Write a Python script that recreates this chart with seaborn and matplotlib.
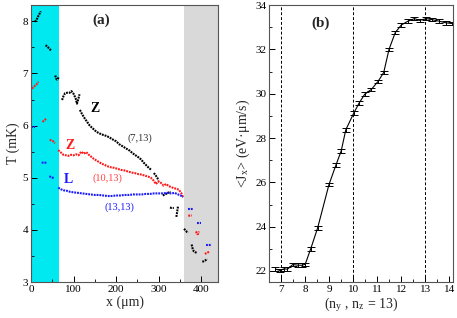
import numpy as np
import pandas as pd
import matplotlib
matplotlib.use("Agg")
import matplotlib.pyplot as plt
import seaborn as sns
from matplotlib.ticker import MultipleLocator

sns.set_theme(style="ticks")
plt.rcParams['font.family'] = ['Liberation Serif', 'DejaVu Serif']
plt.rcParams['mathtext.fontset'] = 'stix'

# ---------------- panel (a) data: T profiles (segments) ----------------
black_segments = [
    ([9, 13, 17, 21, 23], [7.99, 8.03, 8.10, 8.16, 8.19]),
    ([34, 38, 42, 47], [7.54, 7.52, 7.48, 7.44]),
    ([57, 59, 61, 63, 65], [6.96, 6.90, 6.88, 6.89, 6.93]),
    ([73, 76, 80, 85, 91, 95, 100, 105, 108, 111, 114],
     [6.49, 6.56, 6.62, 6.63, 6.63, 6.66, 6.61, 6.52, 6.42, 6.50, 6.60]),
    ([115, 120, 126, 132, 138, 146, 154, 161, 170, 178, 185, 193, 200, 208, 216,
      224, 232, 239, 246, 253, 259, 265, 271, 277, 283],
     [6.30, 6.22, 6.14, 6.07, 6.00, 5.94, 5.88, 5.85, 5.82, 5.80, 5.77, 5.73, 5.70,
      5.64, 5.60, 5.56, 5.52, 5.47, 5.43, 5.39, 5.35, 5.29, 5.24, 5.19, 5.15]),
    ([289, 293, 297, 300], [5.09, 5.05, 5.00, 4.95]),
    ([310, 315, 320, 325, 329], [4.66, 4.68, 4.70, 4.72, 4.73]),
    ([327, 331, 336], [4.43, 4.42, 4.42]),
    ([342, 344, 346], [4.25, 4.35, 4.46]),
    ([360, 364, 367, 370], [4.02, 3.99, 3.96, 3.95]),
    ([378, 380, 383, 387, 391], [3.72, 3.65, 3.59, 3.57, 3.56]),
    ([403, 407, 411, 415], [3.39, 3.40, 3.42, 3.44]),
]
red_segments = [
    ([2, 6, 10, 14, 17], [6.71, 6.74, 6.77, 6.80, 6.84]),
    ([27, 31, 34, 37], [6.07, 6.10, 6.12, 6.14]),
    ([44, 48, 52, 56], [5.73, 5.71, 5.70, 5.66]),
    ([64, 68, 72, 76, 82, 88, 94, 100, 106, 112, 118, 124, 130, 136, 142, 148, 154,
      160, 166, 172, 180, 188, 196, 204, 212, 220, 228, 236, 244, 252, 260, 268, 276,
      282, 288, 294, 300, 306, 312, 318, 324, 330, 336, 342, 348, 354, 358],
     [5.53, 5.50, 5.47, 5.44, 5.43, 5.42, 5.44, 5.43, 5.45, 5.43, 5.50, 5.46, 5.49,
      5.44, 5.40, 5.36, 5.33, 5.30, 5.27, 5.25, 5.22, 5.20, 5.19, 5.17, 5.15, 5.14,
      5.12, 5.10, 5.09, 5.07, 5.06, 5.04, 5.02, 5.00, 4.95, 4.88, 4.93, 4.90, 4.85,
      4.88, 4.84, 4.82, 4.80, 4.79, 4.77, 4.70, 4.62]),
    ([370, 374, 378], [4.28, 4.27, 4.28]),
    ([388, 391, 393, 395], [3.97, 3.92, 3.92, 3.97]),
    ([409, 414, 419], [3.54, 3.56, 3.58]),
]
blue_segments = [
    ([0, 4, 9], [5.98, 5.98, 5.98]),
    ([25, 29, 33, 37], [5.29, 5.29, 5.29, 5.28]),
    ([43, 47, 51, 54], [5.03, 5.01, 5.00, 4.99]),
    ([64, 70, 76, 84, 92, 100, 110, 120, 130, 140, 150, 160, 170, 180, 190, 200, 210,
      220, 230, 240, 250, 260, 270, 280, 290, 300, 310, 320, 330, 338, 346, 352, 358],
     [4.81, 4.78, 4.76, 4.75, 4.73, 4.72, 4.71, 4.70, 4.69, 4.68, 4.67, 4.67, 4.66,
      4.65, 4.65, 4.66, 4.66, 4.67, 4.67, 4.68, 4.68, 4.68, 4.69, 4.69, 4.70, 4.70,
      4.70, 4.71, 4.70, 4.71, 4.68, 4.66, 4.63]),
    ([370, 376, 382], [4.41, 4.41, 4.41]),
    ([390, 395, 401], [4.14, 4.14, 4.14]),
    ([411, 417, 423], [3.71, 3.71, 3.71]),
]
series_names = ["(7,13)", "(10,13)", "(13,13)"]
series_colors = ["#000000", "#ff1a1a", "#1a1aff"]

# ---------------- panel (b) data ----------------
ny = [6.76, 6.96, 7.12, 7.26, 7.48, 7.72, 7.86, 8.0, 8.23, 8.52, 8.99, 9.28, 9.5,
      9.69, 10.02, 10.24, 10.48, 10.76, 11.03, 11.27, 11.49, 11.75, 12.0, 12.27,
      12.55, 12.76, 13.04, 13.3, 13.59, 13.86, 14.1]
Jx = [22.09, 22.02, 22.1, 22.08, 22.29, 22.26, 22.26, 22.3, 23.0, 23.95, 25.9, 26.78,
      27.42, 28.37, 29.12, 29.57, 29.98, 30.2, 30.55, 30.96, 32.0, 32.76, 33.1, 33.27,
      33.39, 33.31, 33.39, 33.34, 33.27, 33.2, 33.17]
Jx_err = 0.08
vlines_b = [7, 10, 13]

rows = []
for name, segs in zip(series_names, [black_segments, red_segments, blue_segments]):
    for k, (xs, ts) in enumerate(segs):
        for xv, tv in zip(xs, ts):
            rows.append({"series": name, "seg": f"{name}-{k}", "x": xv, "T": tv})
df_a = pd.DataFrame(rows)
df_b = pd.DataFrame({"ny": ny, "Jx": Jx})

fig = plt.figure(figsize=(4.57, 3.18), dpi=100)
ax1 = fig.add_axes([0.068, 0.113, 0.409, 0.871])
ax2 = fig.add_axes([0.589, 0.113, 0.402, 0.871])

# ---- panel (a)
ax1.axvspan(0, 65, color="#00e8f0", zorder=0, lw=0)
ax1.axvspan(360, 440, color="#d9d9d9", zorder=0, lw=0)
for name, col in zip(series_names, series_colors):
    sub = df_a[df_a.series == name]
    sns.lineplot(data=sub, x="x", y="T", units="seg", estimator=None, sort=False,
                 color=col, lw=1.5, linestyle=(0, (0.9, 0.45)), ax=ax1, legend=False)
ax1.set_xlim(0, 440)
ax1.set_ylim(3, 8.31)
ax1.xaxis.set_major_locator(MultipleLocator(100))
ax1.xaxis.set_minor_locator(MultipleLocator(50))
ax1.yaxis.set_major_locator(MultipleLocator(1))
ax1.yaxis.set_minor_locator(MultipleLocator(0.5))
ax1.set_xlabel("x (μm)", fontsize=10, labelpad=1)
ax1.set_ylabel("T (mK)", fontsize=10, labelpad=2)
ax1.text(165, 8.02, "(a)", fontsize=11, fontweight="bold", ha="center", va="center")
ax1.text(150, 6.33, "Z", fontsize=10, fontweight="bold", ha="center", va="center", color="black")
ax1.text(255, 5.76, "(7,13)", fontsize=7.5, ha="center", va="center", color="#333333")
ax1.text(91, 5.62, "Z", fontsize=10, fontweight="bold", ha="center", va="center", color="#ff1a1a")
ax1.text(180, 5.0, "(10,13)", fontsize=7.5, ha="center", va="center", color="#ff4040")
ax1.text(87, 4.97, "L", fontsize=10, fontweight="bold", ha="center", va="center", color="#1a1aff")
ax1.text(208, 4.44, "(13,13)", fontsize=7.5, ha="center", va="center", color="#1a1aff")

# ---- panel (b)
for v in vlines_b:
    ax2.axvline(v, color="black", lw=0.7, ls=(0, (3, 2)), zorder=1)
sns.lineplot(data=df_b, x="ny", y="Jx", color="black", lw=0.8, ax=ax2, sort=False,
             estimator=None)
ax2.errorbar(ny, Jx, yerr=Jx_err, fmt="none", ecolor="black", elinewidth=0.7,
             capsize=3, capthick=0.7)
ax2.set_xlim(6.5, 14.15)
ax2.set_ylim(21.5, 34)
ax2.xaxis.set_major_locator(MultipleLocator(1))
ax2.xaxis.set_minor_locator(MultipleLocator(0.5))
ax2.yaxis.set_major_locator(MultipleLocator(2))
ax2.yaxis.set_minor_locator(MultipleLocator(1))
ax2.set_xlabel(r"(n$_\mathregular{y}$ , n$_\mathregular{z}$ = 13)", fontsize=10, labelpad=1)
ax2.set_ylabel(r"<J$_\mathregular{x}$> (eV·μm/s)", fontsize=10, labelpad=2)
ax2.text(0.28, 0.935, "(b)", transform=ax2.transAxes, fontsize=11, fontweight="bold",
         ha="center", va="center")

for ax in (ax1, ax2):
    ax.tick_params(which="both", direction="in", labelsize=8, colors="black", pad=2)
    ax.tick_params(which="major", length=4, width=0.7)
    ax.tick_params(which="minor", length=2, width=0.6)
    for s in ax.spines.values():
        s.set_linewidth(0.8)
        s.set_color("#555555")

fig.savefig("out.png", dpi=100)
